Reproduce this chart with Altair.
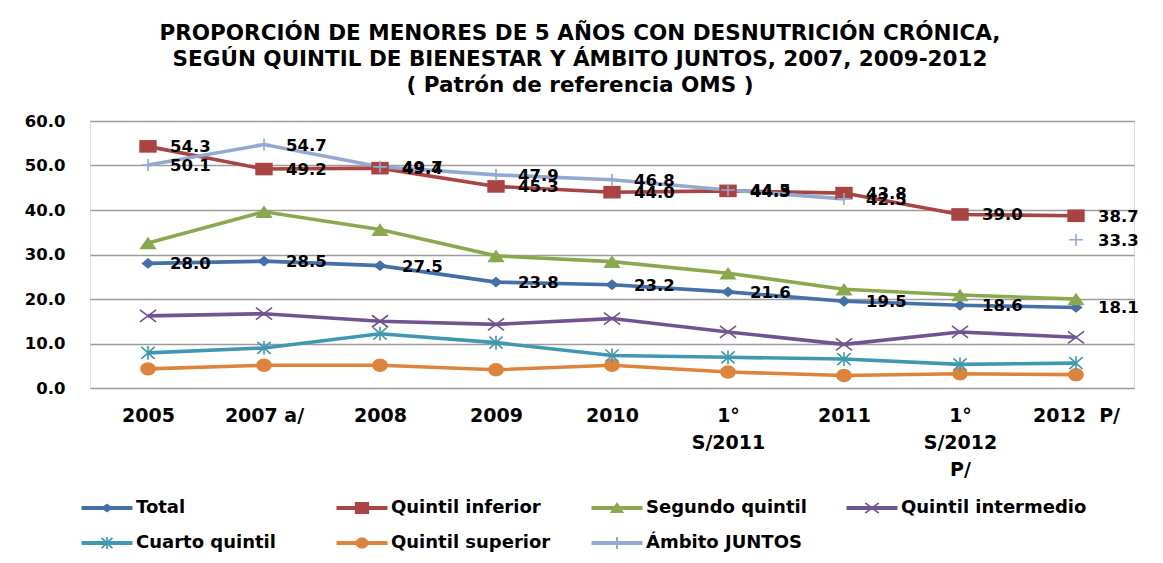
import math
import altair as alt
import pandas as pd

# ---------------- data ----------------
categories = ["2005", "2007 a/", "2008", "2009", "2010", "1°|S/2011", "2011", "1°|S/2012|P/", "2012\u00a0\u00a0P/"]
series_names = ["Total", "Quintil inferior", "Segundo quintil", "Quintil intermedio",
                "Cuarto quintil", "Quintil superior", "Ámbito JUNTOS"]
total = [28.0, 28.5, 27.5, 23.8, 23.2, 21.6, 19.5, 18.6, 18.1]
quintil_inferior = [54.3, 49.2, 49.4, 45.3, 44.0, 44.3, 43.8, 39.0, 38.7]
segundo_quintil = [32.6, 39.6, 35.6, 29.7, 28.4, 25.8, 22.2, 20.9, 20.0]
quintil_intermedio = [16.2, 16.7, 15.0, 14.3, 15.6, 12.6, 9.8, 12.6, 11.4]
cuarto_quintil = [7.9, 9.0, 12.2, 10.2, 7.3, 6.9, 6.5, 5.3, 5.6]
quintil_superior = [4.3, 5.1, 5.1, 4.1, 5.1, 3.6, 2.8, 3.2, 3.0]
ambito_juntos = [50.1, 54.7, 49.7, 47.9, 46.8, 44.5, 42.5, None, 33.3]
labelled_series = ["Total", "Quintil inferior", "Ámbito JUNTOS"]

colors = ["#4470A8", "#A94442", "#8BA84E", "#71548F", "#3F98B0", "#DD843C", "#93A9D1"]

# ---------------- marker paths (style) ----------------
def bar(x1, y1, x2, y2, w):
    dx, dy = x2 - x1, y2 - y1
    L = math.hypot(dx, dy)
    nx, ny = -dy / L * w, dx / L * w
    pts = [(x1 - nx, y1 - ny), (x2 - nx, y2 - ny), (x2 + nx, y2 + ny), (x1 + nx, y1 + ny)]
    return "M" + "L".join(f"{px:.3f},{py:.3f}" for px, py in pts) + "Z"

def ellipse(rx, ry):
    return f"M{-rx},0A{rx},{ry} 0 1,1 {rx},0A{rx},{ry} 0 1,1 {-rx},0Z"

# chart markers (unit = half of sqrt(size))
chart_shapes = [
    "M0,-0.9L1.1,0L0,0.9L-1.1,0Z",                     # diamond
    "M-1.45,-1.05H1.45V1.05H-1.45Z",                   # square
    "M0,-1.05L1.45,1.05L-1.45,1.05Z",                  # triangle
    "M-1.35,-1L1.35,1M-1.35,1L1.35,-1",                # x
    "M-1.1,-1L1.1,1M-1.1,1L1.1,-1M0,-1.15V1.15",       # asterisk
    ellipse(1.3, 1.12),                                # circle
    "M-1.15,0H1.15M0,-1V1",                            # plus
]

# legend symbols: line + marker
LW = 1.5
line_part = bar(-LW, 0, LW, 0, 0.12)
legend_shapes = [
    line_part + "M0,-0.27L0.36,0L0,0.27L-0.36,0Z",
    line_part + "M-0.42,-0.36H0.42V0.36H-0.42Z",
    line_part + "M0,-0.36L0.42,0.3L-0.42,0.3Z",
    line_part + bar(-0.4, -0.3, 0.4, 0.3, 0.05) + bar(-0.4, 0.3, 0.4, -0.3, 0.05),
    line_part + bar(-0.32, -0.3, 0.32, 0.3, 0.05) + bar(-0.32, 0.3, 0.32, -0.3, 0.05) + bar(0, -0.36, 0, 0.36, 0.05),
    line_part + ellipse(0.38, 0.33),
    line_part + bar(0, -0.36, 0, 0.36, 0.06),
]

# ---------------- table ----------------
values_by_series = [total, quintil_inferior, segundo_quintil, quintil_intermedio,
                    cuarto_quintil, quintil_superior, ambito_juntos]
rows = []
for name, vals in zip(series_names, values_by_series):
    seg = 0
    prev_missing = False
    for cat, v in zip(categories, vals):
        if v is None:
            prev_missing = True
            continue
        if prev_missing:
            seg += 1
            prev_missing = False
        rows.append({"cat": cat, "series": name, "value": v, "seg": f"{name}-{seg}"})
df = pd.DataFrame(rows)

filled_series = ["Total", "Quintil inferior", "Segundo quintil", "Quintil superior"]
stroked_series = ["Quintil intermedio", "Cuarto quintil", "Ámbito JUNTOS"]

x_enc = alt.X("cat:N", sort=categories,
              scale=alt.Scale(type="point", domain=categories, padding=0.5),
              axis=alt.Axis(title=None, labelExpr="split(datum.label, '|')",
                            labelFont="DejaVu Sans", labelFontWeight="bold", labelFontSize=19,
                            labelLineHeight=27, labelBaseline="top", labelPadding=18,
                            labelColor="black", labelAngle=0, labelOverlap=False,
                            ticks=False, domain=False, grid=False))
y_enc = alt.Y("value:Q",
              scale=alt.Scale(domain=[0, 60], nice=False, zero=True),
              axis=alt.Axis(title=None, values=[0, 10, 20, 30, 40, 50, 60], format=".1f",
                            labelFont="DejaVu Sans", labelFontWeight="bold", labelFontSize=16.5,
                            labelColor="black", labelPadding=25,
                            ticks=False, domain=False, grid=True,
                            gridColor="#9c9c9c", gridWidth=1.6))

color_scale = alt.Scale(domain=series_names, range=colors)
base = alt.Chart(df)

lines = base.mark_line(strokeWidth=3.6).encode(
    x=x_enc, y=y_enc,
    color=alt.Color("series:N", scale=color_scale, legend=None),
    detail="seg:N",
)

pts_filled = base.transform_filter(
    alt.FieldOneOfPredicate(field="series", oneOf=filled_series)
).mark_point(filled=True, size=144, opacity=1, strokeWidth=0).encode(
    x=x_enc, y=y_enc,
    color=alt.Color("series:N", scale=color_scale, legend=None),
    shape=alt.Shape("series:N", scale=alt.Scale(domain=series_names, range=chart_shapes), legend=None),
)

pts_stroked = base.transform_filter(
    alt.FieldOneOfPredicate(field="series", oneOf=stroked_series)
).mark_point(filled=False, size=144, opacity=1, strokeWidth=1.6).encode(
    x=x_enc, y=y_enc,
    color=alt.Color("series:N", scale=color_scale, legend=None),
    shape=alt.Shape("series:N", scale=alt.Scale(domain=series_names, range=chart_shapes), legend=None),
)

labels = base.transform_filter(
    alt.FieldOneOfPredicate(field="series", oneOf=labelled_series)
).mark_text(align="left", baseline="middle", dx=22, dy=1, font="DejaVu Sans",
            fontWeight="bold", fontSize=16.5, color="black").encode(
    x=x_enc, y=y_enc,
    text=alt.Text("value:Q", format=".1f"),
)

legend_def = alt.Legend(title=None, orient="none", legendX=0, legendY=370, columns=4,
                        direction="horizontal", gridAlign="all", columnPadding=14, rowPadding=9,
                        labelFont="DejaVu Sans", labelFontWeight="bold", labelFontSize=18,
                        labelColor="black", labelOffset=12, labelLimit=0,
                        symbolSize=1156, symbolStrokeWidth=0, symbolOpacity=1, padding=0)

legend_layer = base.transform_filter("false").mark_point(filled=True, strokeWidth=0).encode(
    x=x_enc, y=y_enc,
    color=alt.Color("series:N", scale=alt.Scale(domain=series_names, range=colors), legend=legend_def),
    shape=alt.Shape("series:N", scale=alt.Scale(domain=series_names, range=legend_shapes), legend=legend_def),
)

chart = alt.layer(lines, pts_filled, pts_stroked, labels, legend_layer).resolve_scale(
    color="independent", shape="independent"
).properties(
    width=1044, height=267,
    padding={"left": 82, "top": 113, "right": 21, "bottom": 167},
    autosize=alt.AutoSizeParams(type="none"),
    title=alt.Title(
        text=["PROPORCIÓN DE MENORES DE 5 AÑOS CON DESNUTRICIÓN CRÓNICA,",
              "SEGÚN QUINTIL DE BIENESTAR Y ÁMBITO JUNTOS, 2007, 2009-2012",
              "( Patrón de referencia OMS )"],
        font="DejaVu Sans", fontSize=21.5, fontWeight="bold", color="black",
        anchor="middle", dx=-32, lineHeight=26, offset=17,
    ),
).configure_view(stroke=None).configure(background="white")

chart.save("out.html", embed_options={"renderer": "svg", "actions": False})
